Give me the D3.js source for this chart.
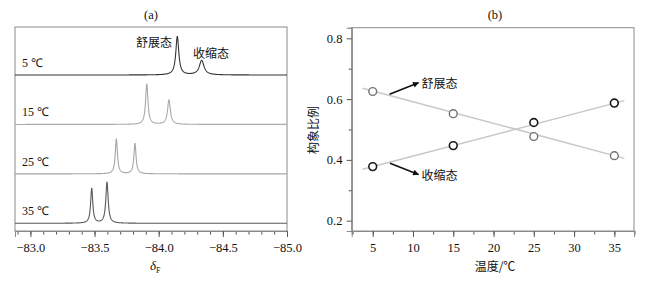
<!DOCTYPE html>
<html><head><meta charset="utf-8">
<script src="https://cdn.jsdelivr.net/npm/d3@7"></script>
<style>
body{margin:0;background:#fff;}
svg{display:block;}
.serif{font-family:"Liberation Serif","Times New Roman",serif;}
.cjk{font-family:"Noto Sans CJK SC","Noto Sans",sans-serif;}
</style></head>
<body>
<svg id="c" width="645" height="281"></svg>
<script>
// ---------- Data: panel (a) 19F NMR spectra ----------
const temps = [5, 15, 25, 35];
const tempLabels = ["5 ℃", "15 ℃", "25 ℃", "35 ℃"];
const traceColors = ["#333333", "#aaaaaa", "#a6a6a6", "#5a5a5a"];
// peak positions (ppm) : [extended, contracted]
const peakPos = [[-84.145, -84.335], [-83.907, -84.080], [-83.670, -83.815], [-83.478, -83.597]];
// peak heights (arbitrary units)
const peakHeight = [[38.5, 14.5], [40.5, 24.5], [35, 30.5], [35, 41]];
// half widths at half maximum (ppm)
const peakHwhm = [[0.014, 0.022], [0.011, 0.013], [0.010, 0.010], [0.010, 0.011]];
const shiftTicks = [-83.0, -83.5, -84.0, -84.5, -85.0];

// ---------- Data: panel (b) conformation ratio ----------
const tempsB = [5, 15, 25, 35];
const extended = [0.625, 0.552, 0.477, 0.414];   // 舒展态
const contracted = [0.378, 0.447, 0.523, 0.587]; // 收缩态
const fitX = [3.75, 36.25];
const extendedFit = [0.636, 0.405];
const contractedFit = [0.369, 0.595];
const tempTicksB = [5, 10, 15, 20, 25, 30, 35];
const ratioTicks = [0.2, 0.4, 0.6, 0.8];

const svg = d3.select("#c");

// ===== Panel (a) =====
const aL = 15, aR = 287, aT = 27, aB = 231;
const xA = d3.scaleLinear().domain([-82.88, -85.0]).range([aL, aR]);
const baseY = d3.scalePoint().domain(temps).range([75, 223.3]);

svg.append("text").attr("class","serif").attr("x",151).attr("y",19)
  .attr("text-anchor","middle").attr("font-size",12.5).attr("fill","#111").text("(a)");

svg.append("rect").attr("x",aL).attr("y",aT).attr("width",aR-aL).attr("height",aB-aT)
  .attr("fill","none").attr("stroke","#8a8a8a").attr("stroke-width",1);

const xs = d3.range(-82.88, -85.0, -0.002);
temps.forEach((t, i) => {
  const yS = d3.scaleLinear().domain([0, 50]).range([baseY(t), baseY(t) - 50]);
  const pts = xs.map(x => {
    let v = 0;
    for (let k = 0; k < 2; k++) {
      const g = peakHwhm[i][k];
      const d = x - peakPos[i][k];
      v += peakHeight[i][k] * g * g / (d * d + g * g);
    }
    return [x, v];
  });
  svg.append("path").datum(pts)
    .attr("d", d3.line().x(d => xA(d[0])).y(d => yS(d[1])))
    .attr("fill","none").attr("stroke",traceColors[i]).attr("stroke-width",1.1);
  svg.append("text").attr("class","serif").attr("x",22).attr("y",baseY(t) - 8)
    .attr("font-size",12).attr("fill","#111").text(tempLabels[i]);
});

svg.append("text").attr("class","cjk").attr("x",154).attr("y",46.5)
  .attr("text-anchor","middle").attr("font-size",12).attr("fill","#111").text("舒展态");
svg.append("text").attr("class","cjk").attr("x",211).attr("y",57.5)
  .attr("text-anchor","middle").attr("font-size",12).attr("fill","#111").text("收缩态");

const axA = svg.append("g").attr("transform",`translate(0,${aB})`);
axA.call(d3.axisBottom(xA).tickValues(d3.range(-82.9, -85.01, -0.1)).tickSize(3.5).tickFormat(""));
axA.call(g => g.append("g").call(d3.axisBottom(xA).tickValues(shiftTicks).tickSize(6)
   .tickFormat(d => d3.format(".1f")(d).replace("-", "−"))));
axA.selectAll(".domain").attr("stroke","#8a8a8a");
axA.selectAll("line").attr("stroke","#555");
axA.selectAll("text").attr("class","serif").attr("font-size",12.5).attr("fill","#111").attr("dy","0.95em");

const dl = svg.append("text").attr("class","serif").attr("x",150).attr("y",270).attr("fill","#111");
dl.append("tspan").attr("font-style","italic").attr("font-size",13).text("δ");
dl.append("tspan").attr("font-size",8).attr("dy",3).text("F");

// ===== Panel (b) =====
const bL = 351.7, bR = 634, bT = 27.7, bB = 231;
const xB = d3.scaleLinear().domain([2.39, 37.44]).range([bL, bR]);
const yB = d3.scaleLinear().domain([0.166, 0.835]).range([bB, bT]);

svg.append("text").attr("class","serif").attr("x",495).attr("y",19)
  .attr("text-anchor","middle").attr("font-size",12.5).attr("fill","#111").text("(b)");

svg.append("rect").attr("x",bL).attr("y",bT).attr("width",bR-bL).attr("height",bB-bT)
  .attr("fill","none").attr("stroke","#8a8a8a").attr("stroke-width",1);

const axBx = svg.append("g").attr("transform",`translate(0,${bB})`);
axBx.call(d3.axisBottom(xB).tickValues(d3.range(2.5, 37.6, 2.5)).tickSize(3.5).tickFormat(""));
axBx.call(g => g.append("g").call(d3.axisBottom(xB).tickValues(tempTicksB).tickSize(6)));
const axBy = svg.append("g").attr("transform",`translate(${bL},0)`);
axBy.call(d3.axisLeft(yB).tickValues([0.3,0.5,0.7]).tickSize(3).tickFormat(""));
axBy.call(g => g.append("g").call(d3.axisLeft(yB).tickValues(ratioTicks).tickSize(5).tickFormat(d3.format(".1f"))));
[axBx, axBy].forEach(a => {
  a.selectAll(".domain").attr("stroke","#8a8a8a");
  a.selectAll("line").attr("stroke","#555");
  a.selectAll("text").attr("class","serif").attr("font-size",12.5).attr("fill","#111");
});
axBx.selectAll("text").attr("dy","0.95em");
axBy.selectAll("text").attr("dx","-0.1em");

svg.append("text").attr("class","cjk").attr("x",495).attr("y",271)
  .attr("text-anchor","middle").attr("font-size",12).attr("fill","#111").text("温度/℃");
svg.append("text").attr("class","cjk").attr("transform","translate(318,130) rotate(-90)")
  .attr("text-anchor","middle").attr("font-size",12).attr("fill","#111").text("构象比例");

// fit lines
const fitLine = d3.line().x(d => xB(d[0])).y(d => yB(d[1]));
[extendedFit, contractedFit].forEach(f => {
  svg.append("path").datum(fitX.map((x, i) => [x, f[i]])).attr("d", fitLine)
    .attr("fill","none").attr("stroke","#c8c8c8").attr("stroke-width",1.5);
});
// points
svg.selectAll(".ext").data(tempsB).enter().append("circle")
  .attr("cx", d => xB(d)).attr("cy", (d, i) => yB(extended[i])).attr("r",3.9)
  .attr("fill","#fff").attr("stroke","#707070").attr("stroke-width",1.4);
svg.selectAll(".con").data(tempsB).enter().append("circle")
  .attr("cx", d => xB(d)).attr("cy", (d, i) => yB(contracted[i])).attr("r",3.9)
  .attr("fill","#fff").attr("stroke","#1a1a1a").attr("stroke-width",1.6);

// arrows
const defs = svg.append("defs");
defs.append("marker").attr("id","ah").attr("viewBox","0 0 10 10").attr("refX",9).attr("refY",5)
  .attr("markerWidth",7).attr("markerHeight",6).attr("orient","auto").attr("markerUnits","userSpaceOnUse")
  .append("path").attr("d","M0,0 L10,5 L0,10 z").attr("fill","#111");
svg.append("line").attr("x1",389.5).attr("y1",94.3).attr("x2",418.5).attr("y2",82.7)
  .attr("stroke","#111").attr("stroke-width",1.5).attr("marker-end","url(#ah)");
svg.append("line").attr("x1",390).attr("y1",163.3).attr("x2",418.5).attr("y2",174.5)
  .attr("stroke","#111").attr("stroke-width",1.5).attr("marker-end","url(#ah)");
svg.append("text").attr("class","cjk").attr("x",421.5).attr("y",87.5)
  .attr("font-size",12).attr("fill","#111").text("舒展态");
svg.append("text").attr("class","cjk").attr("x",421.5).attr("y",179.5)
  .attr("font-size",12).attr("fill","#111").text("收缩态");
</script>
</body></html>
